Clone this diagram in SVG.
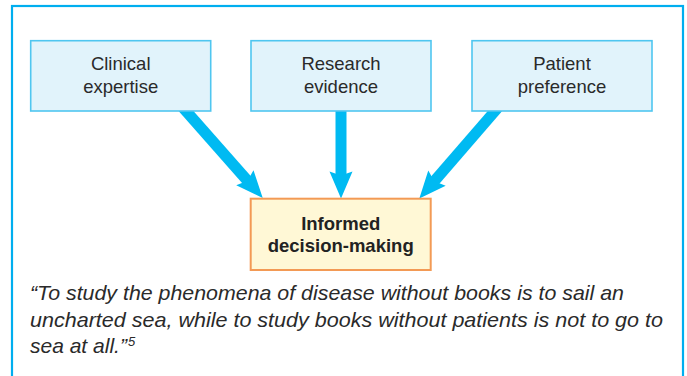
<svg xmlns="http://www.w3.org/2000/svg" width="687" height="376" viewBox="0 0 687 376">
  <style>
    .frame { fill: #ffffff; stroke: #00AEEF; stroke-width: 2.2; }
    .src { fill: #E1F3FB; stroke: #4FC6F0; stroke-width: 1.6; }
    .out { fill: #FFF8D6; stroke: #F39A55; stroke-width: 2; }
    .lbl { font-family: "Liberation Sans", Arial, sans-serif; font-size: 18.5px; fill: #2a2a2a; text-anchor: middle; }
    .bold { font-weight: bold; fill: #222222; }
    .quote { font-family: "Liberation Sans", Arial, sans-serif; font-size: 21px; font-style: italic; fill: #2a2a2a; }
    .conn { stroke: #00BAF2; stroke-width: 11; fill: none; marker-end: url(#head); }
  </style>
  <defs>
    <marker id="head" markerUnits="userSpaceOnUse" viewBox="-10 -15 35 30" refX="0" refY="0" markerWidth="35" markerHeight="30" orient="auto">
      <path d="M20,0 L-7,-11.5 L-3,0 L-7,11.5 Z" fill="#00BAF2"/>
    </marker>
  </defs>
  <rect class="frame" x="12" y="6" width="671" height="420"/>
  <g id="connectors">
    <line class="conn" x1="180.7" y1="105" x2="249.5" y2="183"/>
    <line class="conn" x1="341" y1="105" x2="341" y2="178.5"/>
    <line class="conn" x1="500.2" y1="105" x2="432.4" y2="183.4"/>
  </g>
  <g id="clinical">
    <rect class="src" x="30.7" y="40.7" width="180" height="70.3"/>
    <text class="lbl" x="120.7" y="70">Clinical</text>
    <text class="lbl" x="120.7" y="92.7">expertise</text>
  </g>
  <g id="research">
    <rect class="src" x="251" y="40.7" width="180" height="70.3"/>
    <text class="lbl" x="341" y="70">Research</text>
    <text class="lbl" x="341" y="92.7">evidence</text>
  </g>
  <g id="patient">
    <rect class="src" x="472" y="40.7" width="180" height="70.3"/>
    <text class="lbl" x="562" y="70">Patient</text>
    <text class="lbl" x="562" y="92.7">preference</text>
  </g>
  <g id="informed">
    <rect class="out" x="250.7" y="198.7" width="180" height="71.3"/>
    <text class="lbl bold" x="340.7" y="230">Informed</text>
    <text class="lbl bold" x="340.7" y="251.5">decision-making</text>
  </g>
  <g id="quote">
    <text class="quote" x="30" y="300" textLength="594" lengthAdjust="spacingAndGlyphs">“To study the phenomena of disease without books is to sail an</text>
    <text class="quote" x="30" y="327" textLength="633" lengthAdjust="spacingAndGlyphs">uncharted sea, while to study books without patients is not to go to</text>
    <text class="quote" x="30" y="353">sea at all.”<tspan font-size="13" dx="1" dy="-7">5</tspan></text>
  </g>
</svg>
